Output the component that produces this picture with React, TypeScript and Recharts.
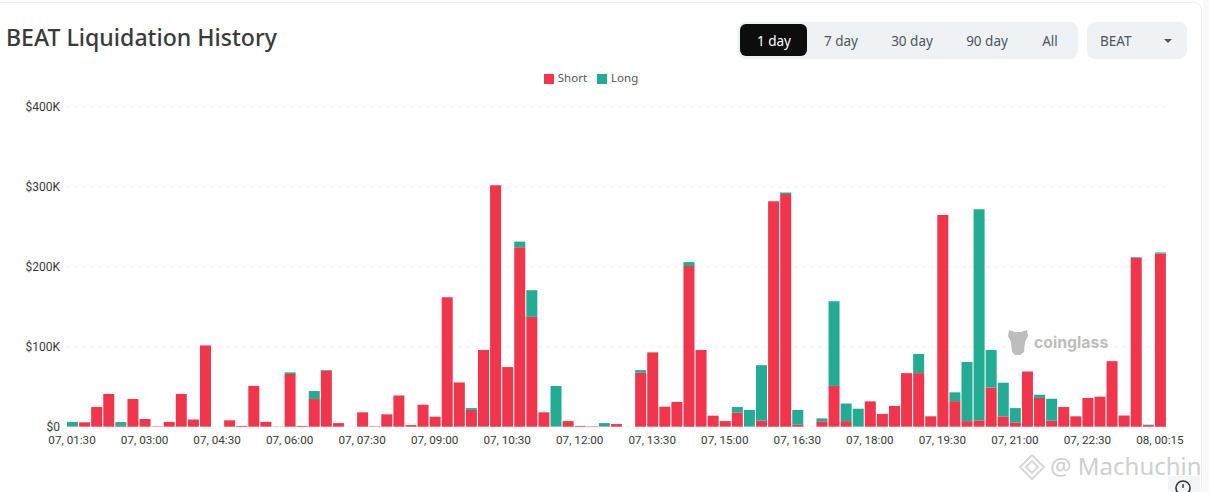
import React from "react";
import { BarChart, Bar, XAxis, YAxis, CartesianGrid, Legend } from "recharts";

const times = [
  "07, 01:30","07, 01:45","07, 02:00","07, 02:15","07, 02:30","07, 02:45","07, 03:00","07, 03:15","07, 03:30","07, 03:45",
  "07, 04:00","07, 04:15","07, 04:30","07, 04:45","07, 05:00","07, 05:15","07, 05:30","07, 05:45","07, 06:00","07, 06:15",
  "07, 06:30","07, 06:45","07, 07:00","07, 07:15","07, 07:30","07, 07:45","07, 08:00","07, 08:15","07, 08:30","07, 08:45",
  "07, 09:00","07, 09:15","07, 09:30","07, 09:45","07, 10:00","07, 10:15","07, 10:30","07, 10:45","07, 11:00","07, 11:15",
  "07, 11:30","07, 11:45","07, 12:00","07, 12:15","07, 12:30","07, 12:45","07, 13:00","07, 13:15","07, 13:30","07, 13:45",
  "07, 14:00","07, 14:15","07, 14:30","07, 14:45","07, 15:00","07, 15:15","07, 15:30","07, 15:45","07, 16:00","07, 16:15",
  "07, 16:30","07, 16:45","07, 17:00","07, 17:15","07, 17:30","07, 17:45","07, 18:00","07, 18:15","07, 18:30","07, 18:45",
  "07, 19:00","07, 19:15","07, 19:30","07, 19:45","07, 20:00","07, 20:15","07, 20:30","07, 20:45","07, 21:00","07, 21:15",
  "07, 21:30","07, 21:45","07, 22:00","07, 22:15","07, 22:30","07, 22:45","07, 23:00","07, 23:15","07, 23:30","07, 23:45",
  "08, 00:15",
];

// Values in thousands of dollars.
const shortK = [
  0.5,5.5,24.6,41,1,34.6,9.6,0.5,6,41,9,101.7,0,8,1,51,6,0.3,66,1,34.6,70,4.5,0,18,0.5,15.5,39,
  2,27.5,12.5,162,55.4,21,96,302,74.6,224.6,137.5,18,0.5,7,1,0.5,0.5,3.3,0,67.5,93,25,31,201,96,13.8,7,17.5,0.3,7.5,282,291,2.5,
  0,6.7,51,7,0.3,31.7,16,26,67,67,13,265,32,7,8,49,13,5.4,69,36,7.5,24.6,13,36,37.5,82,14,211,2,216.7,
];
const longK = [
  5.5,0,0,0,4.8,0,0,0,0,0,0,0,0,0,0,0,0,0,2,0,10,1,0,0,0,0,0,0,
  0,0,0,0,0,2.3,0,0,0,7,33.3,0,50.5,0,0,0,4,0,0,3.3,0,0,0,5,0,0,0,7.1,20.7,69.5,0,2,18.5,
  0,3.7,106,22,22.2,0,0,0,0,24,0,0,11,74,264,47,42,17.9,0,4,27.5,0,0,0,0,0,0,1,0.5,1.3,
];

const yTicks = [0, 100000, 200000, 300000, 400000];
const chartData = times.map((time, i) => ({
  time,
  Short: shortK[i] * 1000,
  Long: longK[i] * 1000,
}));

const ranges = ["1 day", "7 day", "30 day", "90 day", "All"];
const rangeCenters = [774, 841, 912, 987, 1050];
const legendOrder = ["Short", "Long"];

const RED = "#F0364C";
const GREEN = "#24AB94";
const UI = "'Noto Sans', sans-serif";
const NUM = "Roboto, sans-serif";

const money = (v: number) => (v === 0 ? "$0" : `$${v / 1000}K`);

export default function App() {
  return (
    <div style={{ position: "absolute", left: 0, top: 0, width: 1209, height: 492, overflow: "hidden", background: "#fff" }}>
      <div style={{ position: "absolute", left: -20, top: 2, width: 1222, height: 520, border: "1px solid #eceef0", borderRadius: 8, boxSizing: "border-box" }} />
      <div style={{ position: "absolute", left: 1203, top: 0, width: 6, height: 492, background: "#f8f9f9" }} />
      <BarChart
        width={1209}
        height={492}
        data={chartData}
        margin={{ top: 107, right: 43, bottom: 30, left: 0 }}
        barCategoryGap={0}
        style={{ position: "absolute", left: 0, top: 0 }}
      >
        <CartesianGrid horizontal vertical={false} stroke="#f0f1f2" strokeDasharray="4 4" />
        <XAxis
          dataKey="time"
          interval={5}
          height={35.3}
          axisLine={false}
          tickLine={false}
          tickMargin={3}
          tick={{ fontFamily: NUM, fontSize: 11.7, fill: "#3a3a3a" }}
        />
        <YAxis
          width={66}
          domain={[0, 400000]}
          ticks={yTicks}
          tickFormatter={money}
          axisLine={false}
          tickLine={false}
          tickMargin={0}
          tick={{ fontFamily: NUM, fontSize: 12, fill: "#3a3a3a" }}
        />
        <Legend
          verticalAlign="middle"
          align="center"
          iconType="square"
          iconSize={10}
          itemSorter={(item: any) => legendOrder.indexOf(item.value)}
          wrapperStyle={{ top: 70, left: 0, width: 1192, fontFamily: UI, fontSize: 11.5 }}
          formatter={(v: string) => <span style={{ color: "#555", fontSize: 11.5 }}>{v}</span>}
        />
        <Bar dataKey="Short" stackId="a" fill={RED} barSize={11} isAnimationActive={false} />
        <Bar dataKey="Long" stackId="a" fill={GREEN} barSize={11} isAnimationActive={false} />
      </BarChart>

      <div style={{ position: "absolute", left: 6, top: 20, fontFamily: UI, fontSize: 23.1, fontWeight: 500, color: "#3a3a3a", lineHeight: "34px", whiteSpace: "nowrap" }}>
        BEAT Liquidation History
      </div>

      <div style={{ position: "absolute", left: 737, top: 22, width: 341, height: 37, background: "#eff2f5", borderRadius: 8 }} />
      <div style={{ position: "absolute", left: 740, top: 24, width: 67, height: 32, background: "#0d0d0d", borderRadius: 6 }} />
      {ranges.map((r, i) => (
        <div key={r} style={{ position: "absolute", left: rangeCenters[i] - 40, width: 80, top: 30.5, textAlign: "center", fontFamily: UI, fontSize: 13.5, lineHeight: "21px", color: i === 0 ? "#fff" : "#4d5560" }}>
          {r}
        </div>
      ))}
      <div style={{ position: "absolute", left: 1087, top: 22, width: 100, height: 37, background: "#eff2f5", borderRadius: 8 }} />
      <div style={{ position: "absolute", left: 1100, top: 30.5, fontFamily: UI, fontSize: 13.5, lineHeight: "21px", color: "#4d5560" }}>BEAT</div>
      <svg style={{ position: "absolute", left: 1163, top: 38 }} width="10" height="6"><path d="M1 1h8L5 5z" fill="#555" /></svg>

      <svg style={{ position: "absolute", left: 1006, top: 328 }} width="24" height="28">
        <path d="M3 2 L9 4 L15 4 L21 2 L22 8 L19 14 L18 24 L14 27 L9 27 L6 24 L5 14 L2 8 Z" fill="#bdbdbd" />
      </svg>
      <div style={{ position: "absolute", left: 1034, top: 331, fontFamily: "Inter, sans-serif", fontSize: 15.8, fontWeight: 700, color: "#bdbdbd", lineHeight: "24px" }}>coinglass</div>

      <svg style={{ position: "absolute", left: 1017, top: 453 }} width="30" height="28">
        <path d="M15 2 L27 14 L15 26 L3 14 Z M15 8 L9 14 L15 20 L21 14 Z" fill="none" stroke="#d8d8d8" strokeWidth="2" />
      </svg>
      <div style={{ position: "absolute", left: 1050, top: 449, fontFamily: UI, fontSize: 24, color: "#cfcfcf", lineHeight: "34px", whiteSpace: "nowrap" }}>@ Machuchin</div>
      <div style={{ position: "absolute", left: 1168, top: 476, width: 32, height: 16, background: "#f4f5f6" }} />
      <svg style={{ position: "absolute", left: 1174, top: 479 }} width="18" height="13">
        <circle cx="9" cy="9" r="7" fill="none" stroke="#333" strokeWidth="1.6" />
        <path d="M9 5v4" fill="none" stroke="#333" strokeWidth="1.4" />
      </svg>
    </div>
  );
}
